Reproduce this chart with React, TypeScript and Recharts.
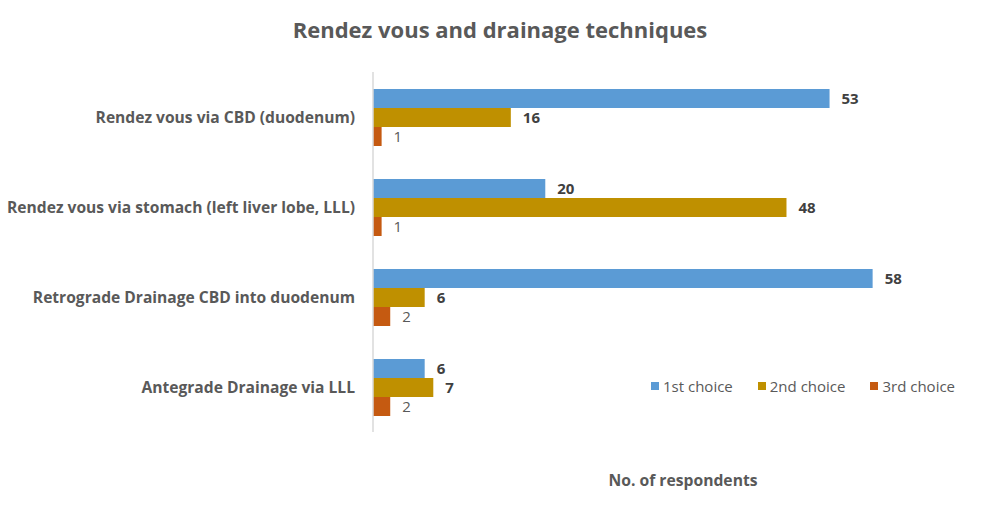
import React from "react";
import { BarChart, Bar, XAxis, YAxis, LabelList, Legend } from "recharts";

const categories = [
  "Rendez vous via CBD (duodenum)",
  "Rendez vous via stomach (left liver lobe, LLL)",
  "Retrograde Drainage CBD into duodenum",
  "Antegrade Drainage via LLL",
];
const firstChoice = [53, 20, 58, 6];
const secondChoice = [16, 48, 6, 7];
const thirdChoice = [1, 1, 2, 2];

const seriesNames = ["1st choice", "2nd choice", "3rd choice"];
const seriesColors = ["#5B9BD5", "#BF9000", "#C55A11"];

const data = categories.map((c, i) => ({
  name: c,
  first: firstChoice[i],
  second: secondChoice[i],
  third: thirdChoice[i],
}));

const FONT = "'Open Sans', 'DejaVu Sans', sans-serif";
const GREY = "#595959";

const renderLegend = () => (
  <div style={{ display: "flex", fontFamily: FONT, fontSize: 15, color: GREY }}>
    {seriesNames.map((n, i) => (
      <div key={n} style={{ display: "flex", alignItems: "center", marginRight: i < 2 ? 25 : 0 }}>
        <span style={{ width: 8, height: 8, background: seriesColors[i], display: "inline-block", marginRight: 4 }} />
        <span>{n}</span>
      </div>
    ))}
  </div>
);

export default function App() {
  return (
    <div style={{ position: "absolute", left: 0, top: 0, width: 990, height: 510, background: "#fff" }}>
      <div
        style={{
          position: "absolute",
          left: 0,
          width: 1000,
          top: 14,
          textAlign: "center",
          fontFamily: FONT,
          fontWeight: 700,
          fontSize: 22,
          color: GREY,
          lineHeight: "30px",
        }}
      >
        Rendez vous and drainage techniques
      </div>
      <BarChart
        width={990}
        height={510}
        data={data}
        layout="vertical"
        margin={{ top: 72, right: 14, bottom: 78, left: 0 }}
        barCategoryGap={17}
        barGap={0}
      >
        <XAxis type="number" domain={[0, 70]} hide />
        <YAxis
          type="category"
          dataKey="name"
          width={373}
          tickLine={false}
          tickSize={6}
          tickMargin={12}
          axisLine={{ stroke: "#D9D9D9", strokeWidth: 1.5 }}
          tick={{ fill: GREY, fontSize: 15.6, fontWeight: 700, fontFamily: FONT }}
        />
        <Legend
          layout="horizontal"
          verticalAlign="middle"
          align="center"
          content={renderLegend}
          wrapperStyle={{ position: "absolute", left: 651, top: 376, width: 330 }}
        />
        <Bar dataKey="first" name={seriesNames[0]} fill={seriesColors[0]} isAnimationActive={false}>
          <LabelList dataKey="first" position="right" offset={12} style={{ fill: "#404040", fontSize: 15, fontWeight: 700, fontFamily: FONT }} />
        </Bar>
        <Bar dataKey="second" name={seriesNames[1]} fill={seriesColors[1]} isAnimationActive={false}>
          <LabelList dataKey="second" position="right" offset={12} style={{ fill: "#404040", fontSize: 15, fontWeight: 700, fontFamily: FONT }} />
        </Bar>
        <Bar dataKey="third" name={seriesNames[2]} fill={seriesColors[2]} isAnimationActive={false}>
          <LabelList dataKey="third" position="right" offset={12} style={{ fill: GREY, fontSize: 15, fontWeight: 400, fontFamily: FONT }} />
        </Bar>
      </BarChart>
      <div
        style={{
          position: "absolute",
          left: 583,
          width: 200,
          top: 469,
          textAlign: "center",
          fontFamily: FONT,
          fontWeight: 700,
          fontSize: 15.7,
          color: GREY,
          lineHeight: "22px",
        }}
      >
        No. of respondents
      </div>
    </div>
  );
}
